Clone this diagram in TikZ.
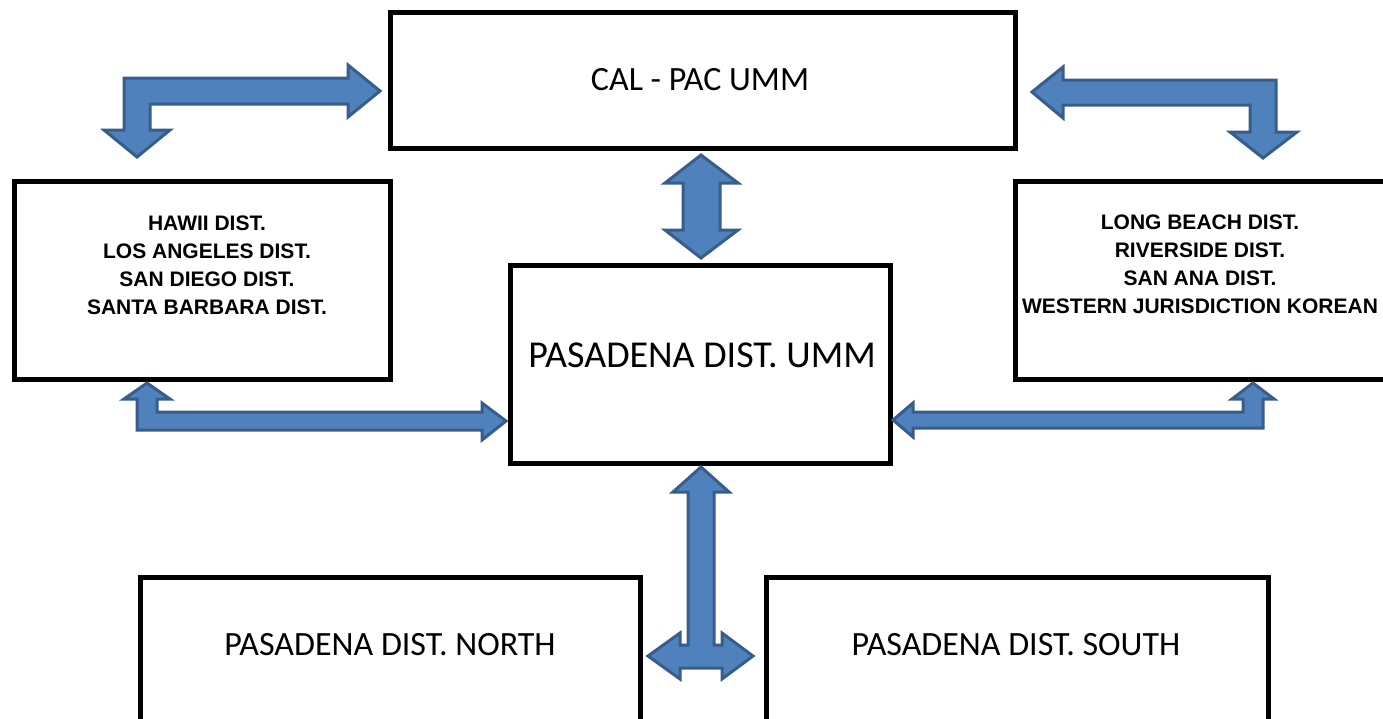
\documentclass[tikz,border=0pt]{standalone}
\usepackage{fontspec}
\setmainfont{Carlito}
\newfontfamily\arialfont{Liberation Sans}
\definecolor{arrowfill}{HTML}{4F81BD}
\definecolor{arrowline}{HTML}{385D8A}
\begin{document}
\begin{tikzpicture}[x=1pt,y=-1pt,
  box/.style={draw=black, line width=5pt, inner sep=0pt, outer sep=0pt, fill=white},
  blockarrow/.style={fill=arrowfill, draw=arrowline, line width=3pt, line join=miter},
  bigtext/.style={font=\fontsize{34}{40}\selectfont, inner sep=0pt},
  ummtext/.style={font=\fontsize{38}{44}\selectfont, inner sep=0pt},
  listtext/.style={font=\arialfont\bfseries\fontsize{21}{28}\selectfont, align=center, inner sep=0pt}]
\useasboundingbox (0,0) rectangle (1383,718);
\clip (0,0) rectangle (1383,718);
\fill[white] (0,0) rectangle (1383,718);

% boxes
\node[box, minimum width=625pt, minimum height=136pt] (calpac) at (702.5,80) {};
\node[box, minimum width=376pt, minimum height=198pt] (leftbox) at (202.5,280.5) {};
\node[box, minimum width=385pt, minimum height=198pt] (rightbox) at (1208,280.5) {};
\node[box, minimum width=380pt, minimum height=198pt] (umm) at (700,364) {};
\node[box, minimum width=500pt, minimum height=163pt] (north) at (390,658.5) {};
\node[box, minimum width=502pt, minimum height=163pt] (south) at (1017,658.5) {};

% texts
\node[bigtext] (calpactext) at (700,80) {CAL - PAC UMM};
\node[listtext] (lefttext) at (207,265.5) {HAWII DIST.\\LOS ANGELES DIST.\\SAN DIEGO DIST.\\SANTA BARBARA DIST.};
\node[listtext] (righttext) at (1200,264.5) {LONG BEACH DIST.\\RIVERSIDE DIST.\\SAN ANA DIST.\\WESTERN JURISDICTION KOREAN};
\node[ummtext] (ummtext) at (702,355) {PASADENA DIST. UMM};
\node[bigtext] (northtext) at (390,645) {PASADENA DIST. NORTH};
\node[bigtext] (southtext) at (1016,645) {PASADENA DIST. SOUTH};

% block arrows
% top-left: left box <-> CAL-PAC
\draw[blockarrow] (124,78) -- (348,78) -- (348,65) -- (380,91) -- (348,117) -- (348,104)
  -- (150,104) -- (150,130) -- (170,130) -- (137,157) -- (104,130) -- (124,130) -- cycle;
% top-right: CAL-PAC <-> right box
\draw[blockarrow] (1276,80) -- (1276,132) -- (1297,132) -- (1263,158) -- (1230,132) -- (1250,132)
  -- (1250,105) -- (1063,105) -- (1063,118) -- (1032,92) -- (1063,67) -- (1063,80) -- cycle;
% bottom-left: left box <-> UMM
\draw[blockarrow] (137,399) -- (124,399) -- (147,383) -- (170,399) -- (157,399) -- (157,412)
  -- (482,412) -- (482,403) -- (506,421) -- (482,440) -- (482,430) -- (137,430) -- cycle;
% bottom-right: UMM <-> right box
\draw[blockarrow] (893,420) -- (913,403) -- (913,412) -- (1243,412) -- (1243,399) -- (1232,399)
  -- (1253,383) -- (1274,399) -- (1263,399) -- (1263,428) -- (913,428) -- (913,437) -- cycle;
% CAL-PAC <-> UMM
\draw[blockarrow] (701,155) -- (738,183) -- (720,183) -- (720,230) -- (738,230) -- (701,258)
  -- (665,230) -- (683,230) -- (683,183) -- (665,183) -- cycle;
% UMM <-> north / south
\draw[blockarrow] (701,467) -- (729,492) -- (714,492) -- (714,645) -- (722,645) -- (722,633)
  -- (753,656) -- (722,679) -- (722,668) -- (680,668) -- (680,679) -- (648,656) -- (680,633)
  -- (680,645) -- (688,645) -- (688,492) -- (673,492) -- cycle;
\end{tikzpicture}
\end{document}
